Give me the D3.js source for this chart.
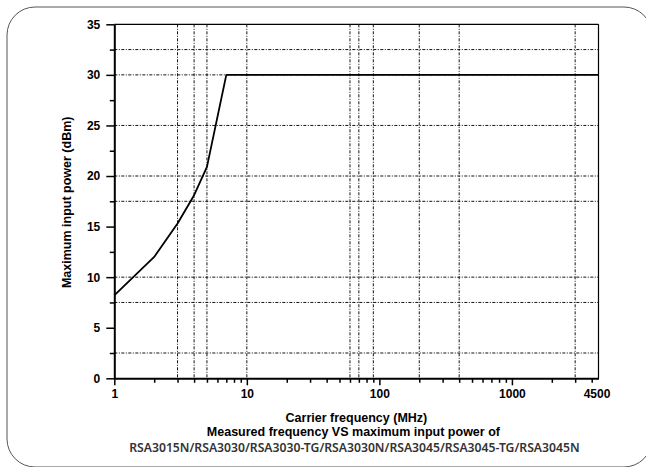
<!DOCTYPE html>
<html>
<head>
<meta charset="utf-8">
<script src="https://cdn.jsdelivr.net/npm/d3@7"></script>
<style>
  html, body { margin: 0; padding: 0; background: #fff; }
  svg { display: block; }
  .tick-label { font-family: "Liberation Sans", Arial, sans-serif; font-weight: bold; font-size: 12px; fill: #000; }
  .title { font-family: "Liberation Sans", Arial, sans-serif; font-weight: bold; font-size: 12.5px; fill: #000; }
  .subtitle { font-family: "Noto Sans", sans-serif; font-weight: 600; font-size: 12.2px; fill: #333; }
</style>
</head>
<body>
<script>
// ---- data ----
const frequencyMHz = [1, 2, 3, 4, 5, 7, 4500];
const maxInputPowerDbm = [8.2, 12.0, 15.3, 18.1, 20.9, 30, 30];
const xTickValues = [1, 10, 100, 1000, 4500];
const xTickLabels = ["1", "10", "100", "1000", "4500"];
const xMinorTicks = [2,3,4,5,6,7,8,9,20,30,40,50,60,70,80,90,200,300,400,500,600,700,800,900,2000,3000,4000];
const xGridValues = [3, 4, 5, 10, 60, 70, 90, 200, 400, 3000];
const yTickValues = [0, 5, 10, 15, 20, 25, 30, 35];
const yMinorTicks = [2.5, 7.5, 12.5, 17.5, 22.5, 27.5, 32.5];
const yGridValues = [2.5, 7.5, 10, 17.5, 20, 25, 30, 32.5];
const xAxisTitle = "Carrier frequency (MHz)";
const yAxisTitle = "Maximum input power (dBm)";
const captionLine1 = "Measured frequency VS maximum input power of";
const captionLine2 = "RSA3015N/RSA3030/RSA3030-TG/RSA3030N/RSA3045/RSA3045-TG/RSA3045N";

// ---- layout ----
const W = 646, H = 467;
const plot = { left: 114.3, right: 598.5, top: 24.3, bottom: 378.3 };

const svg = d3.select("body").append("svg").attr("width", W).attr("height", H);

// outer rounded frame
svg.append("rect")
  .attr("x", 7).attr("y", 7).attr("width", 645).attr("height", 460)
  .attr("rx", 28).attr("ry", 28)
  .attr("fill", "none").attr("stroke", "#555").attr("stroke-width", 1);

const x = d3.scaleLog().domain([1, 4500]).range([plot.left, plot.right]);
const y = d3.scaleLinear().domain([0, 35]).range([plot.bottom, plot.top]);

// grid
const grid = svg.append("g").attr("stroke", "#111").attr("stroke-width", 1)
  .attr("stroke-dasharray", "3,1.5,1,1.5").attr("fill", "none");
grid.selectAll("line.gx").data(xGridValues).join("line").attr("class", "gx")
  .attr("x1", d => x(d)).attr("x2", d => x(d))
  .attr("y1", plot.top).attr("y2", plot.bottom);
grid.selectAll("line.gy").data(yGridValues).join("line").attr("class", "gy")
  .attr("x1", plot.left).attr("x2", plot.right)
  .attr("y1", d => y(d)).attr("y2", d => y(d));

// top & right frame of plot
svg.append("line").attr("x1", plot.left).attr("x2", plot.right).attr("y1", plot.top).attr("y2", plot.top)
  .attr("stroke", "#000").attr("stroke-width", 1.2);
svg.append("line").attr("x1", plot.right).attr("x2", plot.right).attr("y1", plot.top).attr("y2", plot.bottom)
  .attr("stroke", "#000").attr("stroke-width", 1.2);

// x axis
const xAxis = d3.axisBottom(x).tickValues(xTickValues)
  .tickFormat((d, i) => xTickLabels[i]).tickSize(7).tickSizeOuter(0);
const gx = svg.append("g").attr("transform", `translate(0,${plot.bottom})`).call(xAxis);
gx.select(".domain").attr("stroke", "#000").attr("stroke-width", 2);
gx.selectAll(".tick line").attr("stroke", "#000").attr("stroke-width", 1.5);
gx.selectAll(".tick").filter(d => d === 4500).select("line").remove();
gx.selectAll(".tick text").attr("class", "tick-label").attr("dy", "0.95em").attr("y", 8);
gx.selectAll(".tick").filter(d => d === 4500).select("text").attr("dx", -2);
const xMinor = d3.axisBottom(x).tickValues(xMinorTicks).tickFormat("").tickSize(4.5).tickSizeOuter(0);
const gxm = svg.append("g").attr("transform", `translate(0,${plot.bottom})`).call(xMinor);
gxm.select(".domain").remove();
gxm.selectAll(".tick line").attr("stroke", "#000").attr("stroke-width", 1.5);

// y axis
const yAxis = d3.axisLeft(y).tickValues(yTickValues).tickSize(8).tickSizeOuter(0);
const gy = svg.append("g").attr("transform", `translate(${plot.left},0)`).call(yAxis);
gy.select(".domain").attr("stroke", "#000").attr("stroke-width", 2);
gy.selectAll(".tick line").attr("stroke", "#000").attr("stroke-width", 1.5);
gy.selectAll(".tick text").attr("class", "tick-label").attr("x", -14);
const yMinor = d3.axisLeft(y).tickValues(yMinorTicks).tickFormat("").tickSize(4.5).tickSizeOuter(0);
const gym = svg.append("g").attr("transform", `translate(${plot.left},0)`).call(yMinor);
gym.select(".domain").remove();
gym.selectAll(".tick line").attr("stroke", "#000").attr("stroke-width", 1.5);

// data line
const data = frequencyMHz.map((f, i) => ({ f, p: maxInputPowerDbm[i] }));
svg.append("path").datum(data)
  .attr("fill", "none").attr("stroke", "#000").attr("stroke-width", 1.8)
  .attr("stroke-linejoin", "round")
  .attr("d", d3.line().x(d => x(d.f)).y(d => y(d.p)));

// titles
const cx = (plot.left + plot.right) / 2;
svg.append("text").attr("class", "title").attr("x", cx).attr("y", 422)
  .attr("text-anchor", "middle").text(xAxisTitle);
svg.append("text").attr("class", "title").attr("x", cx - 3).attr("y", 436)
  .attr("text-anchor", "middle").text(captionLine1);
svg.append("text").attr("class", "subtitle").attr("x", cx - 2).attr("y", 452)
  .attr("text-anchor", "middle").text(captionLine2);
svg.append("text").attr("class", "title")
  .attr("transform", `translate(71,${(plot.top + plot.bottom) / 2 + 1}) rotate(-90)`)
  .attr("text-anchor", "middle").text(yAxisTitle);
</script>
</body>
</html>
